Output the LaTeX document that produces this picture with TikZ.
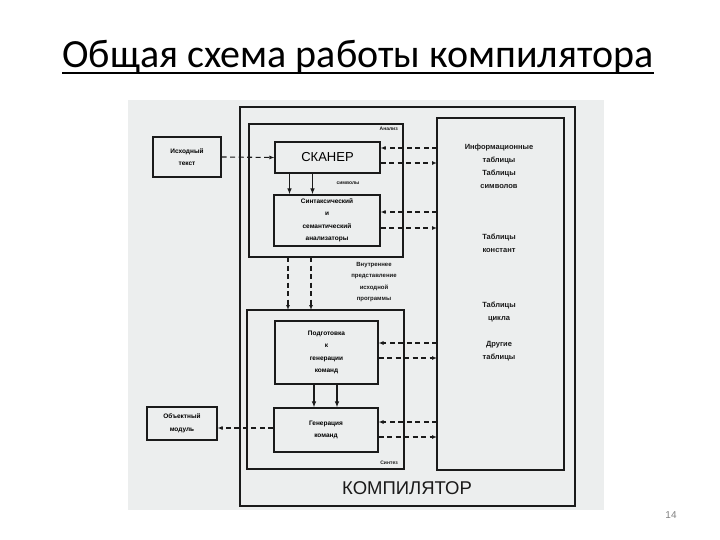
\documentclass[tikz,border=0pt]{standalone}
\usepackage{fontspec}
\setmainfont{Liberation Sans}
\newfontfamily\titlefont{Carlito}
\usetikzlibrary{arrows.meta}
\definecolor{scanbg}{HTML}{ECEEEE}
\definecolor{ink}{HTML}{1A1A1A}
\tikzset{
  box/.style={draw=ink, line width=1.1pt, fill=scanbg, inner sep=1pt, align=center, font=\fontsize{6.5}{12.5}\selectfont\bfseries},
  frame/.style={draw=ink, line width=1.1pt},
  dsh/.style={draw=ink, line width=1.1pt, dash pattern=on 5pt off 3.5pt, -{Latex[open,length=5pt,width=4pt]}},
  sol/.style={draw=ink, line width=1.1pt, -{Latex[length=6pt,width=4.5pt]}},
  lbl/.style={font=\fontsize{7.5}{13}\selectfont\bfseries, align=center, text=ink, inner sep=0pt},
  tiny/.style={font=\fontsize{5}{6}\selectfont\bfseries, text=ink, inner sep=0pt}
}
\begin{document}
\begin{tikzpicture}[x=1pt,y=-1pt]
\useasboundingbox (0,0) rectangle (720,540);
% title
\node[font=\titlefont\fontsize{40}{44}\selectfont, anchor=base, inner sep=0pt] (title) at (358,68) {Общая схема работы компилятора};
\draw[line width=2pt] (title.base west) ++(0,5) -- ([yshift=-5pt]title.base east);
% scan background
\fill[scanbg] (128,100) rectangle (604,510);
% page number
\node[font=\fontsize{10}{12}\selectfont, text=gray] (pnum) at (671,515) {14};
% frames
\draw[frame] (240,107) rectangle (575,506);
\draw[frame] (249,124) rectangle (403,257);
\draw[frame] (247,310) rectangle (404,469);
\draw[frame] (437,118) rectangle (564,470);
% nodes
\node[box, minimum width=68pt, minimum height=40pt] (src) at (187,157) {Исходный\\текст};
\node[box, minimum width=105pt, minimum height=31pt, font=\fontsize{13}{15}\selectfont] (scan) at (327.5,157.5) {СКАНЕР};
\node[box, minimum width=106pt, minimum height=51pt] (syn) at (327,220.5) {Синтаксический\\и\\семантический\\анализаторы};
\node[box, minimum width=103pt, minimum height=63pt] (prep) at (326.5,352.5) {Подготовка\\к\\генерации\\команд};
\node[box, minimum width=104pt, minimum height=44pt] (gen) at (326,430) {Генерация\\команд};
\node[box, minimum width=70pt, minimum height=33pt] (obj) at (182,423.5) {Объектный\\модуль};
\coordinate (tabW) at (437,118);
% labels
\node[tiny, anchor=north east] (lana) at (398,127) {Анализ};
\node[tiny, anchor=south east] (lsyn) at (398,465) {Синтез};
\node[tiny] (lsym) at (348,183) {символы};
\node[lbl, font=\fontsize{6}{11.5}\selectfont\bfseries] (lint) at (374,282) {Внутреннее\\представление\\исходной\\программы};
\node[lbl] (t1) at (499,166) {Информационные\\таблицы\\Таблицы\\символов};
\node[lbl] (t2) at (499,243.5) {Таблицы\\констант};
\node[lbl] (t3) at (499,311.5) {Таблицы\\цикла};
\node[lbl] (t4) at (499,351.5) {Другие\\таблицы};
\node[font=\fontsize{18.5}{20}\selectfont, text=ink] (comp) at (407,488) {КОМПИЛЯТОР};
% connectors
\draw[dsh] (src.east) -- (scan.west);
\draw[sol] ([xshift=-38pt]scan.south) -- ([xshift=-38pt]scan.south |- syn.north);
\draw[sol] ([xshift=-15pt]scan.south) -- ([xshift=-15pt]scan.south |- syn.north);
\draw[dsh] (tabW |- 0,148) -- (scan.east |- 0,148);
\draw[dsh] (scan.east |- 0,163) -- (tabW |- 0,163);
\draw[dsh] (tabW |- 0,212) -- (syn.east |- 0,212);
\draw[dsh] (syn.east |- 0,228) -- (tabW |- 0,228);
\draw[dsh] (288,257) -- (288,310);
\draw[dsh] (311,257) -- (311,310);
\draw[dsh] (tabW |- 0,343) -- (prep.east |- 0,343);
\draw[dsh] (prep.east |- 0,358) -- (tabW |- 0,358);
\draw[sol] ([xshift=-12.5pt]prep.south) -- ([xshift=-12.5pt]prep.south |- gen.north);
\draw[sol] ([xshift=10.5pt]prep.south) -- ([xshift=10.5pt]prep.south |- gen.north);
\draw[dsh] (tabW |- 0,422) -- (gen.east |- 0,422);
\draw[dsh] (gen.east |- 0,437) -- (tabW |- 0,437);
\draw[dsh] (gen.west |- 0,428) -- (obj.east |- 0,428);
\end{tikzpicture}
\end{document}
